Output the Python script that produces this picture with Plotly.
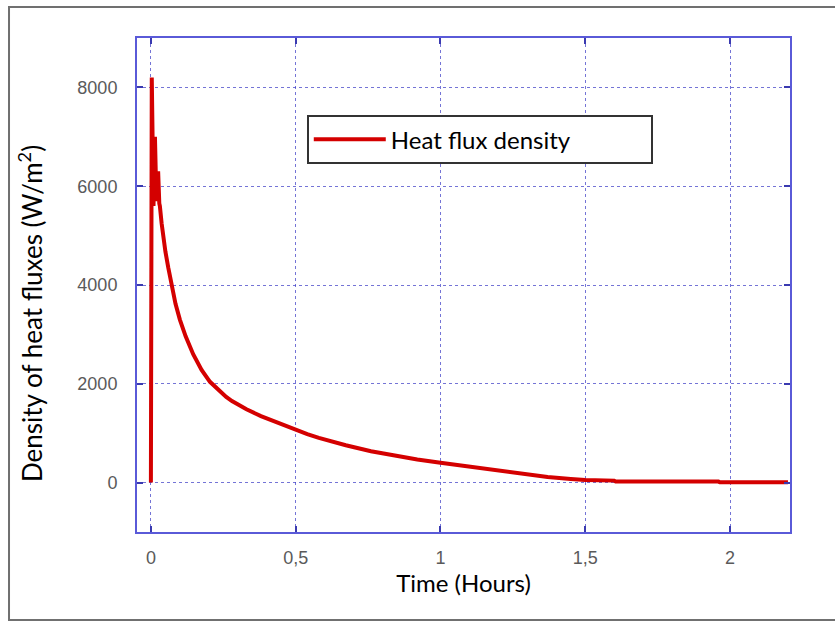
import plotly.graph_objects as go

# Data
time_hours = [0.0, 0.0005, 0.003, 0.009, 0.014, 0.019, 0.025, 0.029, 0.031,
              0.037, 0.043, 0.05, 0.06, 0.0715, 0.085, 0.1, 0.12, 0.146,
              0.175, 0.204, 0.24, 0.26, 0.28, 0.305, 0.33, 0.38, 0.445, 0.5,
              0.54, 0.58, 0.625, 0.673, 0.76, 0.846, 0.92, 1.0, 1.1, 1.197,
              1.28, 1.37, 1.45, 1.5, 1.6, 1.605, 1.96, 1.965, 2.2]
heat_flux = [0, 5500, 8200, 5600, 7000, 5700, 6300, 5650, 5600,
             5250, 4950, 4680, 4350, 4000, 3620, 3300, 2960, 2600,
             2280, 2040, 1830, 1735, 1650, 1560, 1485, 1345, 1195, 1065,
             980, 905, 825, 755, 635, 538, 467, 400, 320, 245,
             180, 115, 75, 55, 40, 20, 20, 5, 5]

x_tickvals = [0, 0.5, 1, 1.5, 2]
x_ticktext = ["0", "0,5", "1", "1,5", "2"]
y_tickvals = [0, 2000, 4000, 6000, 8000]
y_ticktext = ["0", "2000", "4000", "6000", "8000"]

series_name = "Heat flux density"
x_title = "Time (Hours)"
y_title = "Density of heat fluxes (W/m<sup>2</sup>)"

fig = go.Figure()
fig.add_trace(go.Scatter(
    x=time_hours, y=heat_flux, mode="lines", name=series_name,
    line=dict(color="#d40000", width=4),
))

axis_blue = "#5a5ad8"
grid_blue = "rgba(70,70,200,0.75)"
tick_font = dict(family="Liberation Sans, Arial, sans-serif", size=18, color="#5a5a5a")
title_font = dict(family="Lato, Noto Sans, sans-serif", size=24, color="#000000")

fig.update_layout(
    width=835, height=622,
    margin=dict(l=137, r=45, t=38, b=90),
    paper_bgcolor="white", plot_bgcolor="white",
    showlegend=True,
    legend=dict(
        x=0.26, y=0.844, xanchor="left", yanchor="top",
        orientation="h", entrywidth=255, entrywidthmode="pixels",
        bgcolor="white", bordercolor="#333333", borderwidth=2,
        font=dict(family="Lato, Noto Sans, sans-serif", size=24, color="#000000"),
        itemwidth=72,
    ),
    xaxis=dict(
        range=[-0.048, 2.207], tickvals=x_tickvals, ticktext=x_ticktext,
        showline=True, linecolor=axis_blue, linewidth=2, mirror="ticks",
        ticks="inside", ticklen=6, tickcolor="#3a3ab0", tickwidth=2,
        showgrid=True, gridcolor=grid_blue, griddash="dot", gridwidth=1,
        zeroline=False, tickfont=tick_font, ticklabelstandoff=8,
        title=dict(text=x_title, font=title_font, standoff=8),
    ),
    yaxis=dict(
        range=[-1000, 9000], tickvals=y_tickvals, ticktext=y_ticktext,
        showline=True, linecolor=axis_blue, linewidth=2, mirror="ticks",
        ticks="inside", ticklen=6, tickcolor="#3a3ab0", tickwidth=2,
        showgrid=True, gridcolor=grid_blue, griddash="dot", gridwidth=1,
        zeroline=False, tickfont=tick_font, ticklabelstandoff=14,
    ),
    annotations=[
        dict(text=y_title, xref="paper", yref="paper",
             x=-0.164, y=0.443, xanchor="center", yanchor="middle",
             textangle=-90, showarrow=False,
             font=dict(family="Lato, Noto Sans, sans-serif", size=26, color="#000000")),
    ],
    shapes=[
        dict(type="rect", xref="paper", yref="paper",
             x0=-0.196, x1=1.2, y0=-0.178, y1=1.063,
             line=dict(color="#707070", width=2), layer="below"),
    ],
)

fig.write_html("out.html")
